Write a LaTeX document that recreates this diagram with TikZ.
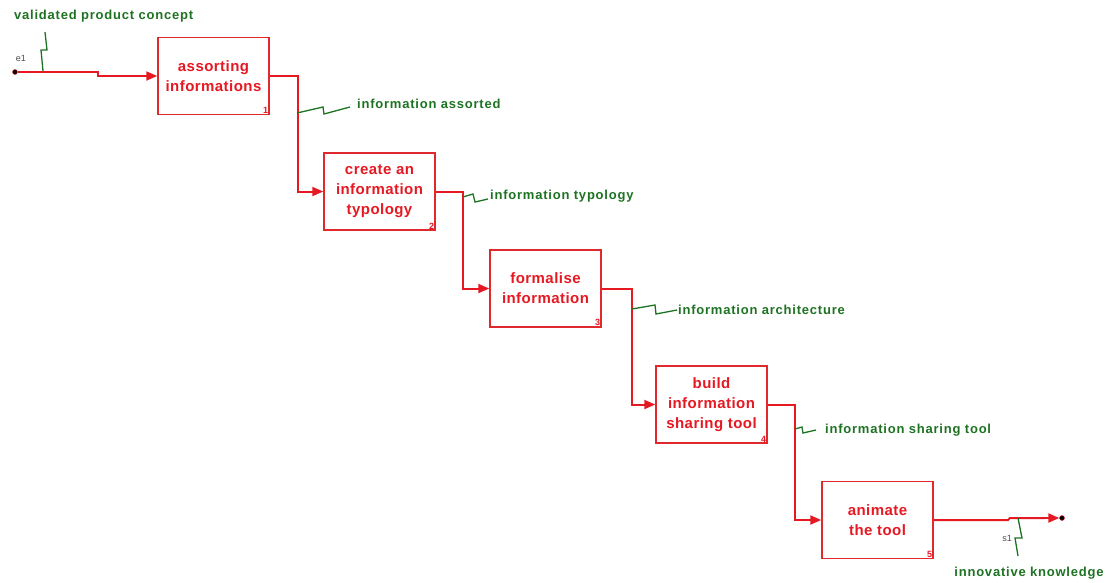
\documentclass[tikz,border=0pt]{standalone}
\usepackage{fontspec}
\setmainfont{Liberation Sans}
\newfontfamily\boxfont[LetterSpace=3]{Liberation Sans}
\newfontfamily\labfont[LetterSpace=6]{Liberation Sans}
\usetikzlibrary{arrows.meta,calc}
\definecolor{boxred}{RGB}{225,40,45}
\definecolor{txtred}{RGB}{230,25,35}
\definecolor{lblgreen}{RGB}{30,115,35}
\tikzset{
  actbox/.style={draw=boxred,line width=1.5pt,minimum width=111pt,minimum height=77pt,
    inner sep=0pt,align=center,text=txtred,font=\boxfont\bfseries\fontsize{15}{20}\selectfont},
  boxnum/.style={anchor=south east,inner sep=1.5pt,text=txtred,font=\bfseries\fontsize{9}{10}\selectfont},
  flow/.style={draw=txtred,line width=2pt,-{Triangle[length=11pt,width=9pt]}},
  flowplain/.style={draw=txtred,line width=2pt},
  squig/.style={draw=lblgreen,line width=1.3pt},
  lbl/.style={text=lblgreen,inner sep=0pt,font=\labfont\bfseries\fontsize{13}{15}\selectfont},
  tag/.style={text=black!70,inner sep=0pt,font=\fontsize{9}{10}\selectfont},
  enddot/.style={circle,fill=black,draw=txtred,inner sep=0pt,minimum size=5pt}
}
\begin{document}
\begin{tikzpicture}[x=1pt,y=-1pt]
\useasboundingbox (0,0) rectangle (1106,582);
\fill[white] (0,0) rectangle (1106,582);
% boxes
\node[actbox] (b1) at (213.5,76) {assorting\\informations};
\node[actbox] (b2) at (379.5,191.5) {create an\\information\\typology};
\node[actbox] (b3) at (545.5,288.5) {formalise\\information};
\node[actbox] (b4) at (711.5,404.5) {build\\information\\sharing tool};
\node[actbox] (b5) at (877.5,520) {animate\\the tool};
\foreach \i in {1,...,5} {\node[boxnum] (n\i) at (b\i.south east) {\i};}
% input
\node[enddot] (e1) at (15,72) {};
\node[tag,anchor=south] (e1l) at (21,62) {e1};
\coordinate (k1) at (98,72);
\draw[flow] (e1) -- (k1) -- (98,76) -- (b1.west);
% connectors
\draw[flow] (b1.east) -- ++(28,0) |- (b2.west);
\draw[flow] (b2.east) -- ++(27,0) |- (b3.west);
\draw[flow] (b3.east) -- ++(30,0) |- (b4.west);
\draw[flow] (b4.east) -- ++(27,0) |- (b5.west);
% output
\node[enddot] (s1d) at (1062,518) {};
\coordinate (k2) at (1008,520);
\draw[flowplain] (b5.east) -- (k2) -- (1010,518) -- (1045,518);
\draw[flow] (1040,518) -- (s1d.west);
\node[tag] (s1l) at (1007,538) {s1};
% labels
\node[lbl,anchor=west] (l0) at (14,16) {validated product concept};
\node[lbl,anchor=west] (l1) at (357,104) {information assorted};
\node[lbl,anchor=west] (l2) at (490,196) {information typology};
\node[lbl,anchor=west] (l3) at (678,310) {information architecture};
\node[lbl,anchor=west] (l4) at (825,430) {information sharing tool};
\node[lbl] (l5) at (1029,573) {innovative knowledge};
% squiggles
\draw[squig] (45,32) -- (47,50) -- (41,50) -- (43,71);
\draw[squig] (297,113) -- (323,107) -- (324,114) -- (350,107);
\draw[squig] (463,197) -- (473,194) -- (475,202) -- (488,199);
\draw[squig] (632,309) -- (655,305) -- (656,314) -- (677,310);
\draw[squig] (795,429) -- (802,427) -- (803,433) -- (816,430);
\draw[squig] (1018,518) -- (1022,538) -- (1015,538) -- (1018,556);
\end{tikzpicture}
\end{document}
